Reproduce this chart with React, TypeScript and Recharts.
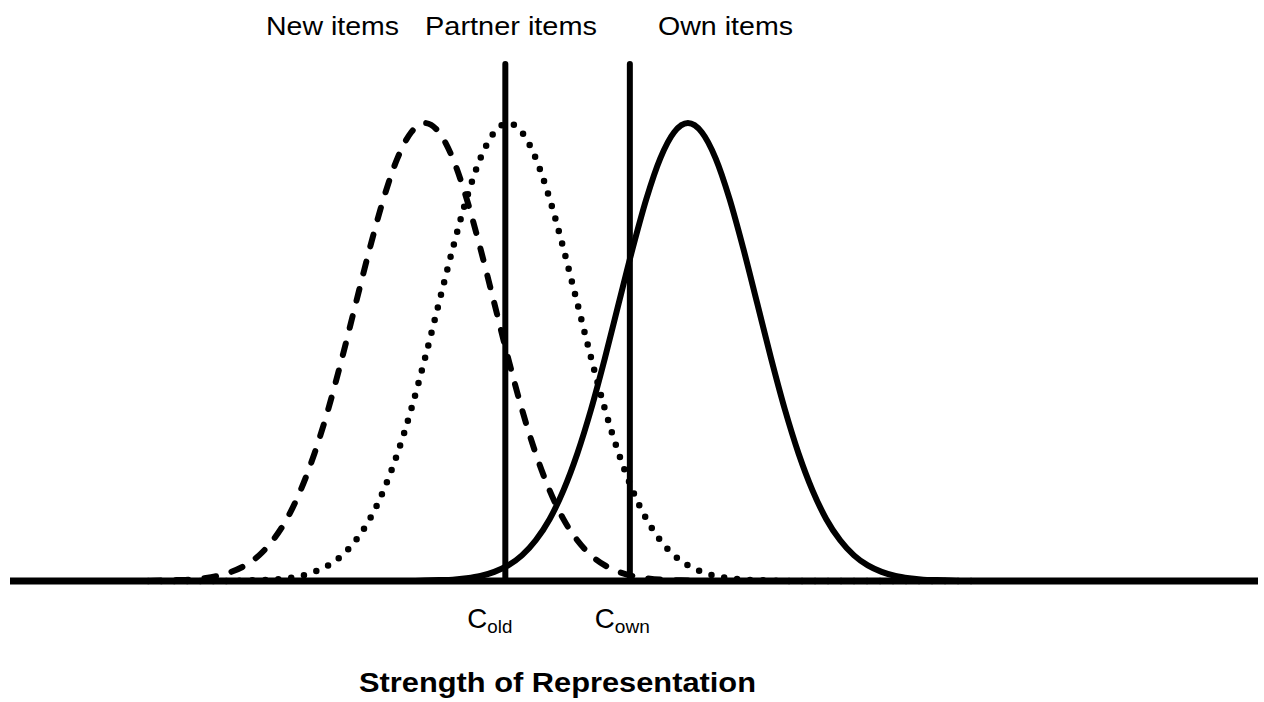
import React from 'react';
import { LineChart, Line, XAxis, YAxis, ReferenceLine, Customized } from 'recharts';

// Strength of representation (arbitrary units)
const strength = [
  10, 11, 12, 13, 14, 15, 16, 17, 18, 19, 20, 21, 22, 23, 24, 25, 26, 27, 28, 29,
  30, 31, 32, 33, 34, 35, 36, 37, 38, 39, 40, 41, 42, 43, 44, 45, 46, 47, 48, 49,
  50, 51, 52, 53, 54, 55, 56, 57, 58, 59, 60, 61, 62, 63, 64, 65, 66, 67, 68, 69, 70,
];

// Relative density (peak = 100)
const newItems = [
  0, 0.1, 0.2, 0.3, 0.6, 1.1, 2.0, 3.4, 5.6, 8.9, 13.5, 19.8, 27.8, 37.5, 48.7, 60.7, 72.6, 83.5, 92.3, 98.0,
  100, 98.0, 92.3, 83.5, 72.6, 60.7, 48.7, 37.5, 27.8, 19.8, 13.5, 8.9, 5.6, 3.4, 2.0, 1.1, 0.6, 0.3, 0.2, 0.1,
  0, 0, 0, 0, 0, 0, 0, 0, 0, 0, 0, 0, 0, 0, 0, 0, 0, 0, 0, 0, 0,
];

const partnerItems = [
  0, 0, 0, 0, 0, 0, 0, 0.1, 0.2, 0.3, 0.6, 1.1, 2.0, 3.4, 5.6, 8.9, 13.5, 19.8, 27.8, 37.5,
  48.7, 60.7, 72.6, 83.5, 92.3, 98.0, 100, 98.0, 92.3, 83.5, 72.6, 60.7, 48.7, 37.5, 27.8, 19.8, 13.5, 8.9, 5.6, 3.4,
  2.0, 1.1, 0.6, 0.3, 0.2, 0.1, 0, 0, 0, 0, 0, 0, 0, 0, 0, 0, 0, 0, 0, 0, 0,
];

const ownItems = [
  0, 0, 0, 0, 0, 0, 0, 0, 0, 0, 0, 0, 0, 0, 0, 0, 0, 0, 0, 0,
  0.1, 0.2, 0.3, 0.6, 1.1, 2.0, 3.4, 5.6, 8.9, 13.5, 19.8, 27.8, 37.5, 48.7, 60.7, 72.6, 83.5, 92.3, 98.0, 100,
  98.0, 92.3, 83.5, 72.6, 60.7, 48.7, 37.5, 27.8, 19.8, 13.5, 8.9, 5.6, 3.4, 2.0, 1.1, 0.6, 0.3, 0.2, 0.1, 0, 0,
];

// Decision criteria
const criterionNames = ['old', 'own'];
const criterionValues = [35.8, 44.8];

const curveLabels = ['New items', 'Partner items', 'Own items'];
const axisTitle = 'Strength of Representation';

const data = strength.map((x, i) => ({
  x,
  newItems: newItems[i],
  partnerItems: partnerItems[i],
  ownItems: ownItems[i],
}));

const FONT = '"Liberation Sans", Arial, Helvetica, sans-serif';

const criterionOffsets = [-38, -35];
const subLengths = [25, 35];

const makeCriterionLabel = (name: string, idx: number) => (props: any) => {
  const vb = props.viewBox || {};
  const x = (vb.x || 0) + criterionOffsets[idx];
  return (
    <g fontFamily={FONT} fill="#000">
      <text x={x} y={628} fontSize={28} textLength={20} lengthAdjust="spacingAndGlyphs">
        C
      </text>
      <text
        x={x + 20}
        y={633}
        fontSize={19}
        textLength={subLengths[idx]}
        lengthAdjust="spacingAndGlyphs"
      >
        {name}
      </text>
    </g>
  );
};

const TopTexts = () => (
  <g fontFamily={FONT} fill="#000">
    <text x={266} y={35} fontSize={26} textLength={133} lengthAdjust="spacingAndGlyphs">
      {curveLabels[0]}
    </text>
    <text x={425} y={35} fontSize={26} textLength={172} lengthAdjust="spacingAndGlyphs">
      {curveLabels[1]}
    </text>
    <text x={658} y={35} fontSize={26} textLength={135} lengthAdjust="spacingAndGlyphs">
      {curveLabels[2]}
    </text>
    <text
      x={359}
      y={692}
      fontSize={27}
      fontWeight="bold"
      textLength={397}
      lengthAdjust="spacingAndGlyphs"
    >
      {axisTitle}
    </text>
  </g>
);

export default function App() {
  return (
    <div style={{ position: 'absolute', left: 0, top: 0, width: 1264, height: 702, background: '#fff' }}>
      <LineChart
        width={1264}
        height={702}
        data={data}
        margin={{ top: 64, right: 6, bottom: 121, left: 10 }}
      >
        <XAxis type="number" dataKey="x" domain={[0, 90.2]} hide />
        <YAxis type="number" domain={[0, 112.9]} hide />
        <Line
          type="monotone"
          dataKey="newItems"
          stroke="#000"
          strokeWidth={6}
          strokeDasharray="12 16"
          strokeLinecap="round"
          dot={false}
          activeDot={false}
          isAnimationActive={false}
        />
        <Line
          type="monotone"
          dataKey="partnerItems"
          stroke="#000"
          strokeWidth={6.5}
          strokeDasharray="0 13"
          strokeLinecap="round"
          dot={false}
          activeDot={false}
          isAnimationActive={false}
        />
        <Line
          type="monotone"
          dataKey="ownItems"
          stroke="#000"
          strokeWidth={6}
          dot={false}
          activeDot={false}
          isAnimationActive={false}
        />
        {criterionValues.map((v, i) => (
          <ReferenceLine
            key={criterionNames[i]}
            x={v}
            stroke="#000"
            strokeWidth={6}
            strokeLinecap="round"
            ifOverflow="visible"
            label={makeCriterionLabel(criterionNames[i], i)}
          />
        ))}
        <ReferenceLine y={0} stroke="#000" strokeWidth={7} ifOverflow="visible" />
        <Customized component={TopTexts} />
      </LineChart>
    </div>
  );
}
